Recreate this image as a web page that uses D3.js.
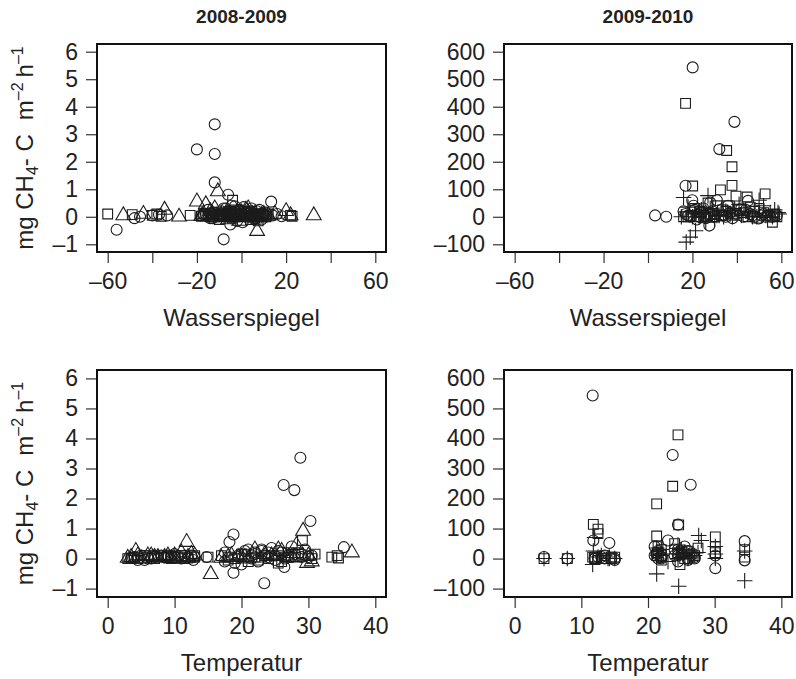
<!DOCTYPE html>
<html>
<head>
<meta charset="utf-8">
<script src="https://cdn.jsdelivr.net/npm/d3@7"></script>
<style>
    body { margin: 0; background: #fff; }
    text { font-family: "Liberation Sans", Arial, sans-serif; fill: #222; }
</style>
</head>
<body>
<svg id="chart" width="796" height="679"></svg>
<script>

// each record: [Wasserspiegel, Temperatur, mg CH4-C m-2 h-1]
let circles0809 = [
    [-12, 28.8, 3.36], [-20, 26.3, 2.45], [-12, 27.9, 2.28], [-12, 30.3, 1.25],
    [-6, 18.8, 0.8], [13.3, 18.2, 0.55], [-8, 23.4, -0.82], [-5, 26.4, -0.28],
    [-56, 18.8, -0.47], [-3, 35.3, 0.38], [-48, 4.5, -0.05], [-45.5, 6, 0],
    [-33.3, 8.5, 0.05], [-9, 14.8, 0.05], [-7, 21, 0.3], [-4, 22, 0.15],
    [-1, 24, 0.2], [2, 25, 0.1], [5, 19.5, 0.05], [8, 20.5, 0.25],
    [10, 27, 0.1], [14, 29, 0.05], [16, 5, 0.1], [18, 3.5, 0.02],
    [-14, 9, 0.1], [-10, 7, 0.05], [-6, 11, 0], [-3, 12.5, 0.1],
    [0, 10, 0.05], [3, 6.5, 0], [6, 17.5, -0.1], [-2, 19, -0.15],
    [-17, 21.5, 0.1], [-15, 23, 0.25], [1, 24.5, 0.35], [4, 26, 0.2],
    [11, 28, 0.15], [-8, 29.5, 0.3], [-13, 25, -0.05], [9, 22.5, -0.1],
    [-40, 13, 0.05], [-37, 9.5, 0.08],
    [-18, 4, 0.05], [-16, 8, 0.1], [-12, 10, 0.15], [-11, 12, 0.05],
    [-9, 17.5, 0.2], [-7, 19.5, 0.1], [-5, 21.5, 0], [-3, 23.5, 0.1],
    [-1, 25.5, 0.25], [1, 27.5, 0.05], [3, 29, 0.15], [5, 30.5, 0.1],
    [7, 22, 0.2], [9, 24, 0.05], [11, 26.5, 0], [-14, 5.5, -0.05],
    [-10, 3.8, 0.02], [-6, 6.8, 0.1], [-2, 8.8, 0.05], [2, 11.5, 0.1],
    [6, 12.8, -0.05], [0.5, 20, -0.2], [4.5, 23, 0.3], [-4.5, 27.5, 0.4],
    [-8.5, 30, 0.05]
];
let squares0809 = [
    [-60, 5.5, 0.1], [-49, 7, 0.08], [-40, 8, 0.05], [-38, 9, 0.1],
    [-36, 12, 0.02], [-23, 10.5, 0.05], [-18, 3.5, 0.02], [-15, 17, 0.1],
    [-13, 20, 0.15], [-11, 22, 0.05], [-4, 29.1, 0.6], [-9, 24, 0],
    [-7, 25.5, 0.1], [-5, 27, 0.2], [-2, 28, 0.05], [0, 30, 0.1],
    [2, 31, 0.15], [4, 21, -0.1], [6, 19, 0], [8, 23, 0.05],
    [-16, 6, 0.05], [-14, 4.5, 0], [-1, 11, 0.1], [3, 13, 0.05],
    [10, 33.5, 0.05], [12, 34.3, 0.1], [22.7, 34.5, 0.02], [22, 15, 0.05],
    [-3, 9.5, 0], [5, 8, 0.05], [7, 18, -0.05], [-10, 26, -0.1],
    [-17, 7.5, 0.1], [-15, 10, 0.05], [-12.5, 11.5, 0], [-10.5, 13, 0.1],
    [-8, 18, 0.05], [-6, 20.5, 0.15], [-4, 22.5, -0.05], [-2, 24.5, 0.1],
    [0, 26.5, 0.05], [1.5, 28.5, 0.2], [3.5, 30.5, 0], [5.5, 23.5, 0.1],
    [7.5, 25.5, -0.15], [9.5, 27, 0.05], [-9.5, 4, 0.05], [-6.5, 5.5, 0.1],
    [-0.5, 7, 0], [4, 9, 0.05], [8.5, 11, 0.1], [11, 3, 0]
];
let triangles0809 = [
    [-53, 3.5, 0.05], [-44, 6, 0.1], [-34.5, 4.2, 0.25], [7, 15.4, -0.52],
    [-28, 10, 0], [-20, 11.8, 0.55], [-16, 28.2, 0.45], [-10.6, 29.2, 0.92],
    [-13, 9, 0.1], [-8, 7.5, 0.05], [-5, 5, 0], [-2, 12.5, 0.15],
    [1, 13, 0.1], [3, 22, 0.3], [5, 25, 0.1], [9, 27.5, 0.05],
    [-6, 30.5, -0.1], [-1, 29.8, -0.15], [20, 36.5, 0.2], [22, 20, 0.05],
    [32.4, 18, 0.05], [-18, 3, 0.02], [12, 8.5, 0.05], [15, 10, 0.1],
    [-11, 19.5, 0.05], [-4, 17, 0.02],
    [-17, 6.5, 0.1], [-14, 11, 0.2], [-9, 12, 0.05], [-7, 18.5, 0.1],
    [-3, 20.5, 0.05], [0, 23.5, 0.15], [2, 26, 0.25], [4, 28, 0.05],
    [6, 30, 0.1], [8, 21, 0], [10, 24.5, 0.1], [-12, 25.5, 0.3],
    [-5.5, 27, 0.05], [-1.5, 4.5, 0.1], [3, 7, 0.05], [6.5, 9.5, 0]
];

let circles0910 = [
    [20.1, 11.7, 543], [38.9, 23.7, 345], [32.1, 26.4, 246], [16.9, 24.5, 113],
    [19.9, 11.8, 60], [28, 14.2, 52], [3.2, 4.4, 5], [8.2, 7.9, 0],
    [27.6, 30.1, -32], [45, 34.5, 58], [49.8, 34.5, -6], [16, 21.3, 20],
    [18, 22, 5], [22, 24.5, -10], [24, 25, 15], [26, 26, -5],
    [30, 27, 0], [33, 12.5, 5], [35, 13.5, 0], [38, 15, -5],
    [40, 21, 10], [42, 24, 30], [44, 26, 25], [46, 30.1, 10],
    [48, 21.5, 0], [51, 22, 5], [53, 12, 0], [55, 14.5, 0],
    [36, 25.5, 40], [31, 23, 60], [25, 24.5, 30],
    [17, 13.5, 10], [19, 15, 0], [21, 21.5, 25], [23, 22, 0],
    [27, 24.5, 10], [29, 25.5, 20], [34, 27, 5], [37, 21.3, 15],
    [43, 12, 0], [47, 13, 5], [52, 24, 10], [56, 26, 0],
    [58, 22, 5], [20.5, 21, 40]
];
let squares0910 = [
    [16.9, 24.5, 412], [35.4, 23.7, 241], [37.8, 21.3, 182], [37.8, 11.8, 114],
    [20.1, 24.6, 112], [32.6, 12.5, 98], [52.7, 12.5, 83], [39.6, 21.3, 75],
    [44.6, 30.1, 72], [18, 4.4, 0], [22, 7.9, 0], [25, 11.7, 5],
    [28, 13.5, 10], [30, 14.5, 0], [33, 15, 5], [35, 21.5, 20],
    [38, 22, 10], [41, 25, 25], [43, 26.5, 15], [46, 27.5, 35],
    [48, 30.1, 20], [50, 34.5, 30], [54, 34.5, 5], [56, 24.8, -20],
    [27, 24, 50], [31, 21.5, 40], [24, 22, 15],
    [16, 13, 0], [19.5, 14.5, 5], [21, 22, 30], [23.5, 24.5, 20],
    [26, 25.5, 0], [29.5, 21.3, 10], [33.5, 26, 25], [36, 30.1, 40],
    [40, 12, 5], [45, 13.5, 0], [49, 22, -5], [52, 25, 15],
    [57, 27, 10], [58, 12, 0]
];
let pluses0910 = [
    [17.2, 24.6, -92], [21.4, 21.3, -51], [19, 34.5, -74], [59, 27, 10],
    [16, 12, 70], [27, 27.6, 77], [20, 4.4, 0], [23, 7.9, 0],
    [26, 11.7, -20], [29, 13, 10], [32, 14.2, 5], [34, 15, 0],
    [36, 21.5, 15], [39, 22, 30], [41, 24.5, 45], [44, 25.5, 20],
    [47, 26, 0], [50, 28, 60], [52, 30.1, 40], [55, 30.1, 15],
    [57, 34.5, 25], [24, 11.8, 25], [30, 23, -10], [37, 26.5, 10],
    [15, 14, 0], [18, 21.3, 35], [21, 22, 10], [25, 24.5, 15],
    [28, 25, 30], [31, 26, 5], [35, 27.5, 20], [38, 30.1, 0],
    [42, 12.5, 5], [45, 21.5, 10], [49, 24.5, 0], [53, 26.5, 5],
    [56, 14.2, 0], [58.5, 22, 15]
];

let periods = ['2008-2009', '2009-2010'];
let xVars = ['Wasserspiegel', 'Temperatur'];
let wlTicks = [-60, -40, -20, 0, 20, 40, 60];
let wlLabels = [-60, -20, 20, 60];
let tempTicks = [0, 10, 20, 30, 40];
let fluxTicks0809 = [-1, 0, 1, 2, 3, 4, 5, 6];
let fluxTicks0910 = [-100, 0, 100, 200, 300, 400, 500, 600];

// plus sign the way R draws pch 3 (d3 has no thin one of this size)
let symbolPlusThin = {
    draw: function(context, size){
        let r = size;
        context.moveTo(-r, 0);
        context.lineTo(r, 0);
        context.moveTo(0, -r);
        context.lineTo(0, r);
    }
};

let shapes = {
    'circle': { type: d3.symbolCircle, size: 95 },
    'square': { type: d3.symbolSquare, size: 95 },
    'triangle': { type: d3.symbolTriangle, size: 95 },
    'plus': { type: symbolPlusThin, size: 7.8 }
};

let seriesByPeriod = [
    [ {shape: 'square', data: squares0809}, {shape: 'triangle', data: triangles0809}, {shape: 'circle', data: circles0809} ],
    [ {shape: 'plus', data: pluses0910}, {shape: 'square', data: squares0910}, {shape: 'circle', data: circles0910} ]
];

function minusFmt(d){
    return d < 0 ? '\u2013' + Math.abs(d) : String(d);
}

// R style axis range: 4% extra on each side
function padRange(lo, hi){
    let pad = (hi - lo) * 0.04;
    return [lo - pad, hi + pad];
}

class ScatterPanel {

    constructor(svg, box, col, row)
    {
        this.svg = svg;
        this.box = box;
        this.col = col;
        this.row = row;

        let xTicks = row == 0 ? wlTicks : tempTicks;
        let yTicks = col == 0 ? fluxTicks0809 : fluxTicks0910;

        this.xTicks = xTicks;
        this.yTicks = yTicks;

        this.x = d3.scaleLinear()
            .domain(padRange(xTicks[0], xTicks[xTicks.length - 1]))
            .range([box.left, box.right]);

        this.y = d3.scaleLinear()
            .domain(padRange(yTicks[0], yTicks[yTicks.length - 1]))
            .range([box.bottom, box.top]);
    }

    draw()
    {
        let g = this.svg.append('g');
        let box = this.box;
        let row = this.row;

        // points
        let xIndex = row == 0 ? 0 : 1;
        seriesByPeriod[this.col].forEach((s) => {
            let sym = shapes[s.shape];
            g.append('g').selectAll('path')
                .data(s.data)
                .enter()
                .append('path')
                .attr('d', d3.symbol().type(sym.type).size(sym.size))
                .attr('transform', (d) => 'translate(' + this.x(d[xIndex]) + ',' + this.y(d[2]) + ')')
                .style('fill', 'none')
                .style('stroke', '#1c1c1c')
                .style('stroke-width', 1.1);
        });

        // frame
        g.append('rect')
            .attr('x', box.left)
            .attr('y', box.top)
            .attr('width', box.right - box.left)
            .attr('height', box.bottom - box.top)
            .style('fill', 'none')
            .style('stroke', '#111')
            .style('stroke-width', 2);

        let labelled = row == 0 ? wlLabels : tempTicks;

        let xAxis = d3.axisBottom(this.x)
            .tickValues(this.xTicks)
            .tickSize(10)
            .tickPadding(10)
            .tickFormat(function(d){
                return labelled.indexOf(d) >= 0 ? minusFmt(d) : '';
            });

        let yAxis = d3.axisLeft(this.y)
            .tickValues(this.yTicks)
            .tickSize(10)
            .tickPadding(8)
            .tickFormat(minusFmt);

        let gx = g.append('g')
            .attr('transform', 'translate(0,' + (box.bottom + 1) + ')')
            .call(xAxis);

        let gy = g.append('g')
            .attr('transform', 'translate(' + (box.left - 1) + ',0)')
            .call(yAxis);

        [gx, gy].forEach(function(ax){
            ax.select('.domain').remove();
            ax.selectAll('line').style('stroke', '#333').style('stroke-width', 1.2);
            ax.selectAll('text')
                .style('font-family', '"Liberation Sans", Arial, sans-serif')
                .style('font-size', '23px')
                .style('fill', '#222');
        });

        // x axis title
        g.append('text')
            .attr('x', (box.left + box.right) / 2)
            .attr('y', box.bottom + 74)
            .attr('text-anchor', 'middle')
            .style('font-size', '24px')
            .text(xVars[row]);

        // y axis title on the left column only
        if(this.col == 0)
        {
            let cy = (box.top + box.bottom) / 2;
            let t = g.append('text')
                .attr('transform', 'translate(33,' + cy + ') rotate(-90)')
                .attr('text-anchor', 'middle')
                .style('font-size', '24px');
            t.append('tspan').text('mg CH');
            t.append('tspan').attr('dy', 5).style('font-size', '16px').text('4');
            t.append('tspan').attr('dy', -5).text('- C');
            t.append('tspan').attr('dx', 14).text('m');
            t.append('tspan').attr('dy', -10).style('font-size', '16px').text('\u20132');
            t.append('tspan').attr('dy', 10).attr('dx', 5).text('h');
            t.append('tspan').attr('dy', -10).style('font-size', '16px').text('\u20131');
        }

        // period title on top row
        if(row == 0)
        {
            g.append('text')
                .attr('x', (box.left + box.right) / 2)
                .attr('y', 23)
                .attr('text-anchor', 'middle')
                .style('font-size', '19px')
                .style('font-weight', 'bold')
                .text(periods[this.col]);
        }
    }
}

let svg = d3.select('#chart');
let cols = [[97, 386], [504, 792]];
let rows = [[44, 252], [370, 597]];

rows.forEach(function(r, ri){
    cols.forEach(function(c, ci){
        let panel = new ScatterPanel(svg, {left: c[0], right: c[1], top: r[0], bottom: r[1]}, ci, ri);
        panel.draw();
    });
});

</script>
</body>
</html>
